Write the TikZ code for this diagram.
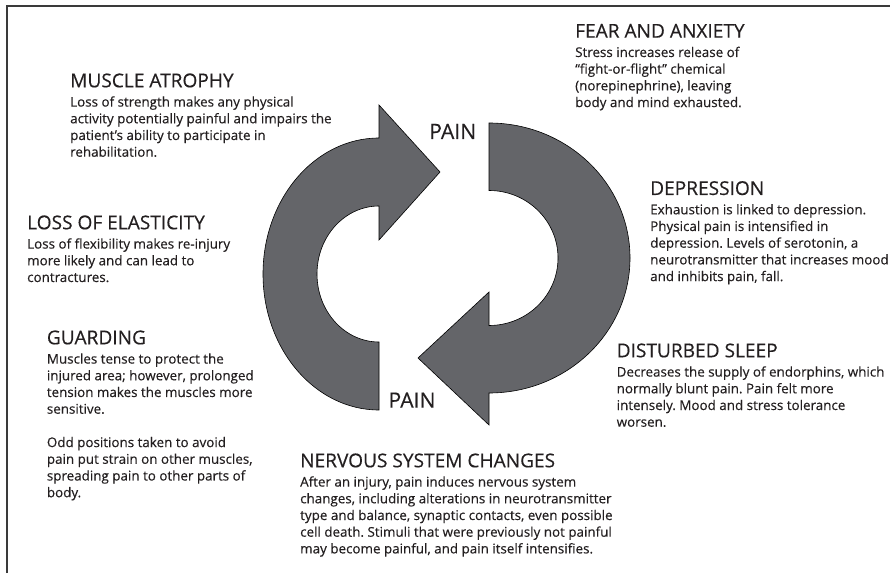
\documentclass[tikz,border=0pt]{standalone}
\usepackage{fontspec}
\setmainfont{Open Sans}[FakeBold=0.35]
\definecolor{inktext}{HTML}{231F20}
\definecolor{arrowgray}{HTML}{646569}
\definecolor{framegray}{HTML}{3A3A3A}
\newcommand\titlefont{\fontsize{19.1}{22}\selectfont}
\newcommand\bodyfont{\fontsize{13.4}{16.7}\selectfont}
\newcommand\infoblock[2]{\parbox[t]{340pt}{\titlefont #1\par\vspace{2.6pt}\bodyfont #2\par}}
\tikzset{
  infotext/.style={anchor=base west, inner sep=0pt, text=inktext},
  painlabel/.style={anchor=base west, inner sep=0pt, text=inktext, font=\fontsize{21.2}{24}\selectfont},
  cyclearrow/.style={fill=arrowgray, draw=black, line width=0.6pt, line join=miter}
}
\frenchspacing
\begin{document}
\begin{tikzpicture}[x=1pt, y=1pt]
  \useasboundingbox (0,0) rectangle (890,573);
  % frame
  \draw[framegray, line width=1.3pt] (7,0) -- (7,567) -- (890,567);

  % left arrow: rises on the left and points right at the top
  \path[cyclearrow]
    (379,163) arc[start angle=270, end angle=90, x radius=116, y radius=136]
    -- (379,468) -- (440,401) -- (379,333) -- (379,367)
    arc[start angle=90, end angle=270, x radius=62, y radius=68]
    -- cycle;

  % right arrow: falls on the right and points left at the bottom
  \path[cyclearrow]
    (489,450) arc[start angle=90, end angle=-90, x radius=141, y radius=135]
    -- (489,148) -- (418,215) -- (489,281) -- (489,247.5)
    arc[start angle=-90, end angle=90, x radius=69, y radius=67.5]
    -- cycle;

  \node[painlabel] (paintop) at (429,434) {PAIN};
  \node[painlabel] (painbottom) at (388.3,165.3) {PAIN};

  \node[infotext] (atrophy) at (70,485.7) {\infoblock{MUSCLE ATROPHY}{Loss of strength makes any physical\\activity potentially painful and impairs the\\patient’s ability to participate in\\rehabilitation.}};

  \node[infotext] (fear) at (575,535.3) {\infoblock{FEAR AND ANXIETY}{Stress increases release of\\“fight-or-flight” chemical\\(norepinephrine), leaving\\body and mind exhausted.}};

  \node[infotext] (elasticity) at (27,343.7) {\infoblock{LOSS OF ELASTICITY}{Loss of flexibility makes re-injury\\more likely and can lead to\\contractures.}};

  \node[infotext] (depression) at (650,378) {\infoblock{DEPRESSION}{Exhaustion is linked to depression.\\Physical pain is intensified in\\depression. Levels of serotonin, a\\neurotransmitter that increases mood\\and inhibits pain, fall.}};

  \node[infotext] (guarding) at (46.7,228.7) {\infoblock{GUARDING}{Muscles tense to protect the\\injured area; however, prolonged\\tension makes the muscles more\\sensitive.\\[16.7pt]Odd positions taken to avoid\\pain put strain on other muscles,\\spreading pain to other parts of\\body.}};

  \node[infotext] (sleep) at (616.5,215.7) {\infoblock{DISTURBED SLEEP}{Decreases the supply of endorphins, which\\normally blunt pain. Pain felt more\\intensely. Mood and stress tolerance\\worsen.}};

  \node[infotext] (nervous) at (300,105.7) {\infoblock{NERVOUS SYSTEM CHANGES}{After an injury, pain induces nervous system\\changes, including alterations in neurotransmitter\\type and balance, synaptic contacts, even possible\\cell death. Stimuli that were previously not painful\\may become painful, and pain itself intensifies.}};
\end{tikzpicture}
\end{document}
